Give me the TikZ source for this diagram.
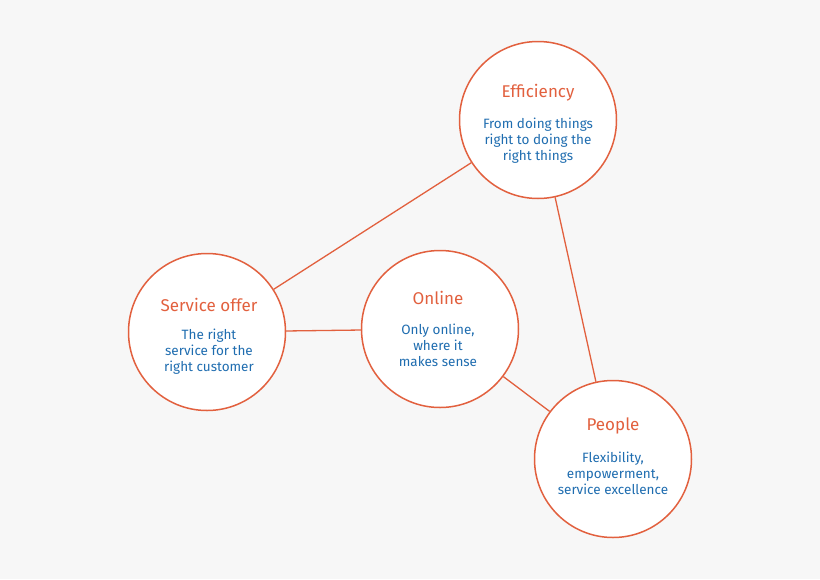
\documentclass[tikz,border=0pt]{standalone}
\usepackage{fontspec}
\setmainfont{Fira Sans}
\definecolor{bg}{HTML}{F7F7F7}
\definecolor{org}{HTML}{E2603E}
\definecolor{blu}{HTML}{1F6DB0}
\begin{document}
\begin{tikzpicture}[x=1pt,y=-1pt,
  circ/.style={circle,draw=org,line width=1.5pt,fill=white,minimum size=157pt,inner sep=0pt},
  ttl/.style={text=org,font=\fontsize{17}{19}\selectfont},
  txt/.style={text=blu,align=center,font=\fontsize{13.5}{16}\selectfont},
  con/.style={draw=org,line width=1.3pt}]
\fill[bg] (0,0) rectangle (820,579);
\useasboundingbox (0,0) rectangle (820,579);
\node[circ] (eff) at (538,120) {};
\node[circ] (svc) at (207,332) {};
\node[circ] (onl) at (440,329) {};
\node[circ] (ppl) at (613,459) {};
\draw[con] (eff) -- (svc);
\draw[con] (svc) -- (onl);
\draw[con] (onl) -- (ppl);
\draw[con] (eff) -- (ppl);
\node[ttl] (t1) at (538,93) {Efficiency};
\node[txt] (b1) at (538,141) {From doing things\\right to doing the\\right things};
\node[ttl] (t2) at (209,305) {Service offer};
\node[txt] (b2) at (209,352) {The right\\service for the\\right customer};
\node[ttl] (t3) at (438,298) {Online};
\node[txt] (b3) at (438,345) {Only online,\\where it\\makes sense};
\node[ttl] (t4) at (613,426) {People};
\node[txt] (b4) at (613,473) {Flexibility,\\empowerment,\\service excellence};
\end{tikzpicture}
\end{document}
